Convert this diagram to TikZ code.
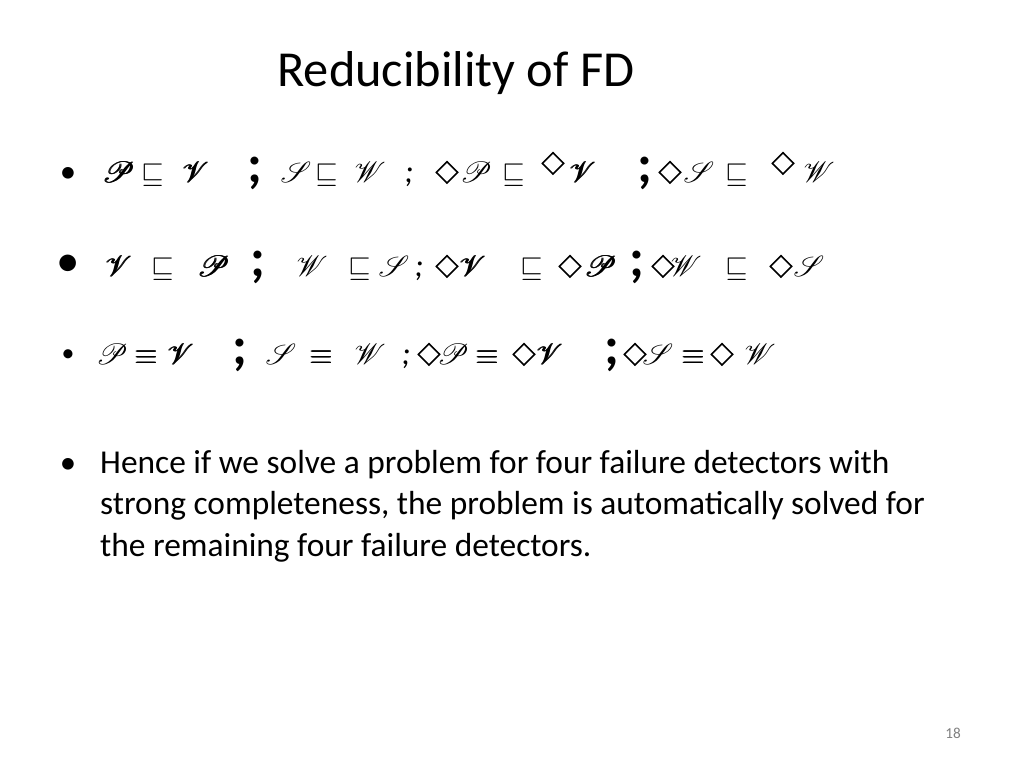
\documentclass[tikz,border=0pt]{standalone}
\usepackage{amsmath}
\usepackage{amssymb}
\usepackage{mathrsfs}
\usepackage{graphicx}
\usepackage{fontspec}
\setmainfont{Carlito}
\usetikzlibrary{calc}

\newcommand{\bigfd}[1]{{\fontsize{58}{58}\selectfont$\pmb{\mathscr{#1}}$}}
\newcommand{\smfd}[1]{{\fontsize{46}{46}\selectfont$\mathscr{#1}$}}
\newcommand{\dm}{\rotatebox{45}{\fboxsep=0pt\fboxrule=1.4pt\fbox{\rule{0pt}{0.4cm}\hspace{0.4cm}}}}
\newcommand{\sq}{{\fontsize{34}{34}\selectfont$\sqsubseteq$}}
\newcommand{\eqv}{{\fontsize{30}{30}\selectfont$\pmb{\equiv}$}}
\newcommand{\bsemi}{{\fontsize{46}{46}\selectfont\textbf{;}}}
\newcommand{\ssemi}{{\fontsize{28}{28}\selectfont\textit{;}}}

\begin{document}
\begin{tikzpicture}[x=0.03cm,y=-0.03cm,
		tok/.style = {inner sep=0pt, anchor=base},
		body/.style = {anchor=base west, inner sep=0pt, font=\fontsize{28.5}{28.5}\selectfont}]
	
	\useasboundingbox (0,0) rectangle (1024,768);
	
	% Title
	\node[anchor=base, font=\fontsize{43}{43}\selectfont] (title) at (456,87) {Reducibility of FD};
	
	% Bullets
	\node[tok, font=\fontsize{28}{28}\selectfont] (b1) at (68,183) {\textbullet};
	\node[tok, font=\fontsize{40}{40}\selectfont] (b2) at (68,277) {\textbullet};
	\node[tok, font=\fontsize{22}{22}\selectfont] (b3) at (68,362) {\textbullet};
	\node[tok, font=\fontsize{28}{28}\selectfont] (b4) at (68,474) {\textbullet};
	
	% Row 1
	\foreach \x/\t [count=\i] in {119/\bigfd{P}, 153/\sq, 196/\bigfd{V}, 255/\bsemi,
		296/\smfd{S}, 327/\sq, 370/\smfd{W}, 409/\ssemi, 447/\dm, 476/\smfd{P},
		514/\sq, 583/\bigfd{V}, 645/\bsemi, 670/\dm, 699/\smfd{S}, 737/\sq, 819/\smfd{W}}
	\node[tok] (ra\i) at (\x,183) {\t};
	\node[tok] (ra18) at (553,174) {\dm};
	\node[tok] (ra19) at (783,174) {\dm};
	
	% Row 2
	\foreach \x/\t [count=\i] in {119/\bigfd{V}, 163/\sq, 214/\bigfd{P}, 258/\bsemi,
		312/\smfd{W}, 360/\sq, 394/\smfd{S}, 419/\ssemi, 447/\dm, 473/\bigfd{V},
		532/\sq, 570/\dm, 601/\bigfd{P}, 637/\bsemi, 663/\dm, 686/\smfd{W},
		737/\sq, 781/\dm, 809/\smfd{S}}
	\node[tok] (rb\i) at (\x,277) {\t};
	
	% Row 3
	\foreach \x/\t [count=\i] in {112/{\fontsize{34}{34}\selectfont$\mathscr{P}$}, 147/\eqv,
		181/\bigfd{V}, 240/\bsemi, 281/\smfd{S}, 322/\eqv, 370/\smfd{W}, 406/\ssemi,
		429/\dm, 453/\smfd{P}, 488/\eqv, 524/\dm, 550/\bigfd{V}, 612/\bsemi,
		635/\dm, 658/\smfd{S}, 694/\eqv, 722/\dm, 760/\smfd{W}}
	\node[tok] (rc\i) at (\x,365) {\t};
	
	% Text
	\node[body] (l1) at (100,474) {Hence if we solve a problem for four failure detectors with};
	\node[body] (l2) at (100,515) {strong completeness, the problem is automatically solved for};
	\node[body] (l3) at (100,557) {the remaining four failure detectors.};
	
	% Page number
	\node[tok, font=\fontsize{13}{13}\selectfont, text=gray] (page) at (953,738) {18};
	
\end{tikzpicture}
\end{document}
